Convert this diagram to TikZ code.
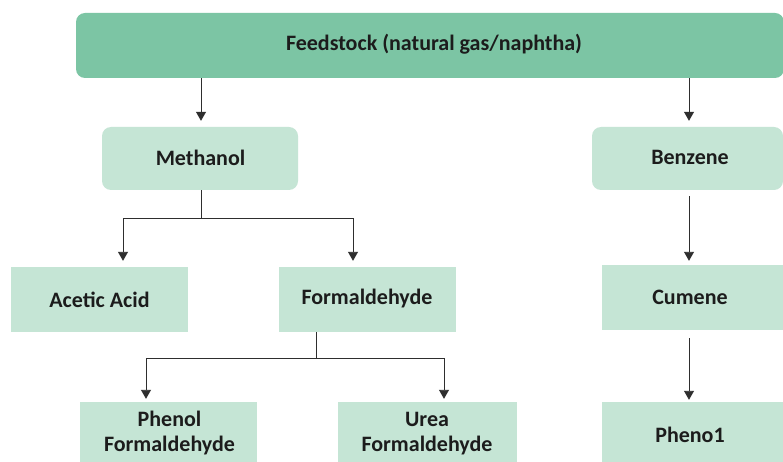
\documentclass[tikz,border=0pt]{standalone}
\usepackage{fontspec}
\setmainfont{Carlito}
\usetikzlibrary{arrows.meta}
\definecolor{topgreen}{HTML}{7CC5A4}
\definecolor{boxgreen}{HTML}{C5E5D5}
\definecolor{linegray}{HTML}{2E2E2E}
\definecolor{inkblack}{HTML}{1C1C1C}
\tikzset{
  headbox/.style={fill=topgreen, rounded corners=9pt, inner sep=0pt},
  roundbox/.style={fill=boxgreen, rounded corners=9pt, inner sep=0pt},
  flatbox/.style={fill=boxgreen, inner sep=0pt},
  label text/.style={inner sep=0pt, align=center, text=inkblack,
    font=\fontsize{22}{25}\selectfont\bfseries},
  link/.style={draw=linegray, line width=0.9pt},
  arrowlink/.style={link, -{Triangle[length=9pt,width=10pt]}},
}
\begin{document}
\begin{tikzpicture}[x=1pt,y=-1pt]
  \useasboundingbox[fill=white] (0,0) rectangle (783,462);
  \begin{scope}
    \clip (0,0) rectangle (783,462);
    % boxes
    \node[headbox, minimum width=708pt, minimum height=65pt] (feed) at (430,45.5) {};
    \node[roundbox, minimum width=196pt, minimum height=63pt] (meth) at (200,158.5) {};
    \node[roundbox, minimum width=191pt, minimum height=63pt] (ben) at (687.5,158.5) {};
    \node[flatbox, minimum width=177pt, minimum height=65pt] (acet) at (99.5,299.5) {};
    \node[flatbox, minimum width=177pt, minimum height=65pt] (form) at (367.5,299.5) {};
    \node[flatbox, minimum width=188pt, minimum height=65pt] (cum) at (696,297.5) {};
    \node[flatbox, minimum width=177pt, minimum height=73pt] (pf) at (168.5,438.5) {};
    \node[flatbox, minimum width=179pt, minimum height=73pt] (uf) at (427.5,438.5) {};
    \node[flatbox, minimum width=188pt, minimum height=73pt] (ph) at (696,438.5) {};
    % texts
    \node[label text, anchor=base] (feedtext) at (434,50.7) {Feedstock (natural gas/naphtha)};
    \node[label text, anchor=base] (methtext) at (200.5,165.5) {Methanol};
    \node[label text, anchor=base] (bentext) at (690,164.5) {Benzene};
    \node[label text, anchor=base] (acettext) at (99.5,307) {Acetic Acid};
    \node[label text, anchor=base] (formtext) at (367,304.5) {Formaldehyde};
    \node[label text, anchor=base] (cumtext) at (690,304) {Cumene};
    \node[label text] (pftext) at (169.5,433.5) {Phenol\\Formaldehyde};
    \node[label text] (uftext) at (427,433.5) {Urea\\Formaldehyde};
    \node[label text, anchor=base] (phtext) at (690,442) {Pheno1};
  \end{scope}
  % columns and junctions used by the connectors
  \coordinate (colM) at (201,0);
  \coordinate (colB) at (689,0);
  \coordinate (colA) at (123,0);
  \coordinate (colF) at (353,0);
  \coordinate (colP) at (146,0);
  \coordinate (colU) at (444,0);
  \coordinate (forkM) at (201,218);
  \coordinate (forkF) at (316,358);
  % feedstock to second row
  \draw[arrowlink, shorten >=6pt] (feed.south -| colM) -- (meth.north -| colM);
  \draw[arrowlink, shorten >=6pt] (feed.south -| colB) -- (ben.north -| colB);
  % methanol fork
  \draw[link] (meth.south -| forkM) -- (forkM);
  \draw[arrowlink, shorten >=6pt] (forkM) -| (acet.north -| colA);
  \draw[arrowlink, shorten >=6pt] (forkM) -| (form.north -| colF);
  % formaldehyde fork
  \draw[link] (form.south -| forkF) -- (forkF);
  \draw[arrowlink, shorten >=3pt] (forkF) -| (pf.north -| colP);
  \draw[arrowlink, shorten >=3pt] (forkF) -| (uf.north -| colU);
  % benzene chain
  \draw[arrowlink, shorten <=6pt, shorten >=4pt] (ben.south -| colB) -- (cum.north -| colB);
  \draw[arrowlink, shorten <=8pt, shorten >=2pt] (cum.south -| colB) -- (ph.north -| colB);
\end{tikzpicture}
\end{document}
